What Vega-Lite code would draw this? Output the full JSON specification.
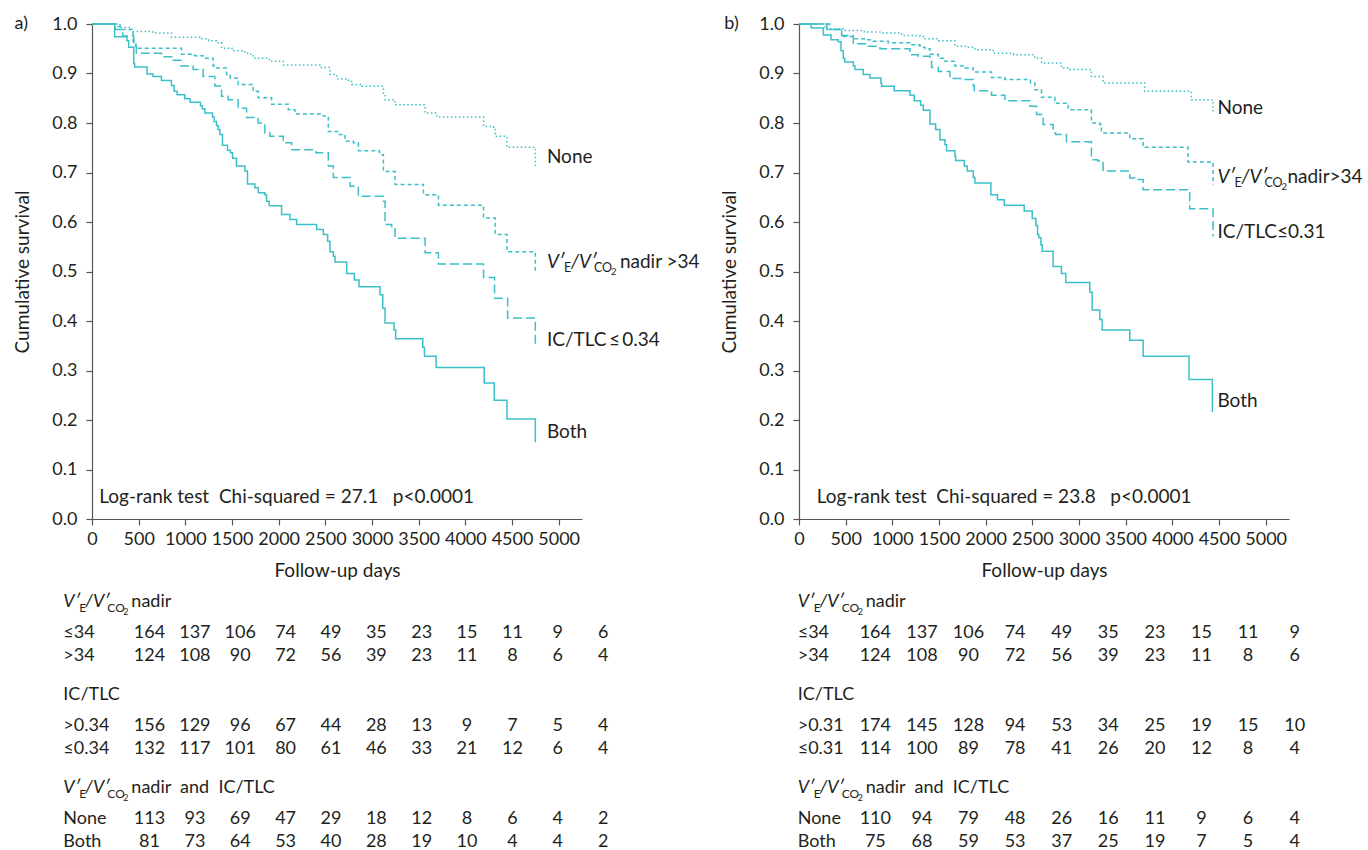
{
  "$schema": "https://vega.github.io/schema/vega-lite/v6.json",
  "background": "white",
  "padding": {"left": 13, "top": 15, "right": 0, "bottom": 0},
  "config": {
    "view": {"stroke": null},
    "font": "Lato",
    "axis": {"grid": false, "domainColor": "#555555", "tickColor": "#555555", "domainWidth": 1.2, "tickWidth": 1.2, "tickSize": 6, "labelFont": "Lato", "labelFontSize": 18, "labelColor": "#231f20", "titleFont": "Lato", "titleFontSize": 19, "titleFontWeight": "normal", "titleColor": "#231f20", "labelFlush": false, "labelOverlap": false},
    "text": {"font": "Lato", "fontSize": 18, "color": "#231f20"}
  },
  "datasets": {
    "km": [
      {"p":"a","g":"N","d":0,"s":1},{"p":"a","g":"N","d":280,"s":0.993},{"p":"a","g":"N","d":422,"s":0.985},{"p":"a","g":"N","d":650,"s":0.982},{"p":"a","g":"N","d":851,"s":0.973},{"p":"a","g":"N","d":1155,"s":0.970},{"p":"a","g":"N","d":1250,"s":0.966},{"p":"a","g":"N","d":1334,"s":0.962},{"p":"a","g":"N","d":1388,"s":0.951},{"p":"a","g":"N","d":1500,"s":0.946},{"p":"a","g":"N","d":1638,"s":0.941},{"p":"a","g":"N","d":1700,"s":0.936},{"p":"a","g":"N","d":1745,"s":0.931},{"p":"a","g":"N","d":1900,"s":0.925},{"p":"a","g":"N","d":2049,"s":0.917},{"p":"a","g":"N","d":2443,"s":0.912},{"p":"a","g":"N","d":2550,"s":0.898},{"p":"a","g":"N","d":2622,"s":0.889},{"p":"a","g":"N","d":2747,"s":0.884},{"p":"a","g":"N","d":2783,"s":0.878},{"p":"a","g":"N","d":2890,"s":0.874},{"p":"a","g":"N","d":3122,"s":0.857},{"p":"a","g":"N","d":3140,"s":0.847},{"p":"a","g":"N","d":3247,"s":0.837},{"p":"a","g":"N","d":3569,"s":0.820},{"p":"a","g":"N","d":3694,"s":0.812},{"p":"a","g":"N","d":4195,"s":0.793},{"p":"a","g":"N","d":4303,"s":0.787},{"p":"a","g":"N","d":4320,"s":0.773},{"p":"a","g":"N","d":4446,"s":0.751},{"p":"a","g":"N","d":4750,"s":0.713},
      {"p":"a","g":"V","d":0,"s":1},{"p":"a","g":"V","d":300,"s":0.989},{"p":"a","g":"V","d":440,"s":0.965},{"p":"a","g":"V","d":470,"s":0.951},{"p":"a","g":"V","d":958,"s":0.939},{"p":"a","g":"V","d":1100,"s":0.936},{"p":"a","g":"V","d":1191,"s":0.931},{"p":"a","g":"V","d":1298,"s":0.915},{"p":"a","g":"V","d":1320,"s":0.911},{"p":"a","g":"V","d":1441,"s":0.898},{"p":"a","g":"V","d":1480,"s":0.891},{"p":"a","g":"V","d":1566,"s":0.878},{"p":"a","g":"V","d":1727,"s":0.864},{"p":"a","g":"V","d":1781,"s":0.851},{"p":"a","g":"V","d":1924,"s":0.838},{"p":"a","g":"V","d":2103,"s":0.827},{"p":"a","g":"V","d":2174,"s":0.818},{"p":"a","g":"V","d":2479,"s":0.814},{"p":"a","g":"V","d":2532,"s":0.783},{"p":"a","g":"V","d":2650,"s":0.777},{"p":"a","g":"V","d":2711,"s":0.763},{"p":"a","g":"V","d":2800,"s":0.760},{"p":"a","g":"V","d":2854,"s":0.744},{"p":"a","g":"V","d":3080,"s":0.736},{"p":"a","g":"V","d":3122,"s":0.702},{"p":"a","g":"V","d":3247,"s":0.676},{"p":"a","g":"V","d":3551,"s":0.655},{"p":"a","g":"V","d":3712,"s":0.634},{"p":"a","g":"V","d":4195,"s":0.608},{"p":"a","g":"V","d":4320,"s":0.575},{"p":"a","g":"V","d":4446,"s":0.540},{"p":"a","g":"V","d":4750,"s":0.501},
      {"p":"a","g":"I","d":0,"s":1},{"p":"a","g":"I","d":250,"s":0.989},{"p":"a","g":"I","d":330,"s":0.976},{"p":"a","g":"I","d":447,"s":0.955},{"p":"a","g":"I","d":475,"s":0.941},{"p":"a","g":"I","d":744,"s":0.934},{"p":"a","g":"I","d":869,"s":0.927},{"p":"a","g":"I","d":951,"s":0.915},{"p":"a","g":"I","d":1084,"s":0.908},{"p":"a","g":"I","d":1191,"s":0.894},{"p":"a","g":"I","d":1316,"s":0.875},{"p":"a","g":"I","d":1388,"s":0.854},{"p":"a","g":"I","d":1459,"s":0.847},{"p":"a","g":"I","d":1566,"s":0.830},{"p":"a","g":"I","d":1656,"s":0.811},{"p":"a","g":"I","d":1780,"s":0.800},{"p":"a","g":"I","d":1852,"s":0.780},{"p":"a","g":"I","d":1906,"s":0.773},{"p":"a","g":"I","d":2049,"s":0.760},{"p":"a","g":"I","d":2139,"s":0.746},{"p":"a","g":"I","d":2400,"s":0.740},{"p":"a","g":"I","d":2532,"s":0.713},{"p":"a","g":"I","d":2586,"s":0.690},{"p":"a","g":"I","d":2765,"s":0.672},{"p":"a","g":"I","d":2854,"s":0.652},{"p":"a","g":"I","d":3122,"s":0.642},{"p":"a","g":"I","d":3140,"s":0.595},{"p":"a","g":"I","d":3211,"s":0.588},{"p":"a","g":"I","d":3247,"s":0.567},{"p":"a","g":"I","d":3569,"s":0.538},{"p":"a","g":"I","d":3712,"s":0.515},{"p":"a","g":"I","d":4195,"s":0.488},{"p":"a","g":"I","d":4313,"s":0.446},{"p":"a","g":"I","d":4453,"s":0.406},{"p":"a","g":"I","d":4750,"s":0.349},
      {"p":"a","g":"B","d":0,"s":1},{"p":"a","g":"B","d":243,"s":0.974},{"p":"a","g":"B","d":375,"s":0.966},{"p":"a","g":"B","d":393,"s":0.953},{"p":"a","g":"B","d":447,"s":0.920},{"p":"a","g":"B","d":457,"s":0.913},{"p":"a","g":"B","d":590,"s":0.899},{"p":"a","g":"B","d":654,"s":0.894},{"p":"a","g":"B","d":744,"s":0.886},{"p":"a","g":"B","d":851,"s":0.876},{"p":"a","g":"B","d":880,"s":0.864},{"p":"a","g":"B","d":912,"s":0.857},{"p":"a","g":"B","d":994,"s":0.849},{"p":"a","g":"B","d":1051,"s":0.842},{"p":"a","g":"B","d":1162,"s":0.835},{"p":"a","g":"B","d":1180,"s":0.829},{"p":"a","g":"B","d":1209,"s":0.820},{"p":"a","g":"B","d":1291,"s":0.812},{"p":"a","g":"B","d":1309,"s":0.803},{"p":"a","g":"B","d":1334,"s":0.795},{"p":"a","g":"B","d":1352,"s":0.787},{"p":"a","g":"B","d":1370,"s":0.777},{"p":"a","g":"B","d":1398,"s":0.755},{"p":"a","g":"B","d":1452,"s":0.745},{"p":"a","g":"B","d":1484,"s":0.740},{"p":"a","g":"B","d":1506,"s":0.729},{"p":"a","g":"B","d":1548,"s":0.713},{"p":"a","g":"B","d":1638,"s":0.703},{"p":"a","g":"B","d":1666,"s":0.677},{"p":"a","g":"B","d":1745,"s":0.669},{"p":"a","g":"B","d":1781,"s":0.659},{"p":"a","g":"B","d":1852,"s":0.655},{"p":"a","g":"B","d":1870,"s":0.642},{"p":"a","g":"B","d":1899,"s":0.633},{"p":"a","g":"B","d":2031,"s":0.615},{"p":"a","g":"B","d":2121,"s":0.605},{"p":"a","g":"B","d":2192,"s":0.595},{"p":"a","g":"B","d":2407,"s":0.585},{"p":"a","g":"B","d":2479,"s":0.575},{"p":"a","g":"B","d":2525,"s":0.561},{"p":"a","g":"B","d":2550,"s":0.540},{"p":"a","g":"B","d":2586,"s":0.531},{"p":"a","g":"B","d":2604,"s":0.519},{"p":"a","g":"B","d":2729,"s":0.496},{"p":"a","g":"B","d":2811,"s":0.483},{"p":"a","g":"B","d":2861,"s":0.469},{"p":"a","g":"B","d":3086,"s":0.453},{"p":"a","g":"B","d":3115,"s":0.426},{"p":"a","g":"B","d":3140,"s":0.396},{"p":"a","g":"B","d":3237,"s":0.382},{"p":"a","g":"B","d":3254,"s":0.364},{"p":"a","g":"B","d":3544,"s":0.347},{"p":"a","g":"B","d":3562,"s":0.329},{"p":"a","g":"B","d":3687,"s":0.306},{"p":"a","g":"B","d":4202,"s":0.275},{"p":"a","g":"B","d":4310,"s":0.240},{"p":"a","g":"B","d":4446,"s":0.202},{"p":"a","g":"B","d":4750,"s":0.155},
      {"p":"b","g":"N","d":0,"s":1},{"p":"b","g":"N","d":279,"s":0.990},{"p":"b","g":"N","d":475,"s":0.987},{"p":"b","g":"N","d":700,"s":0.984},{"p":"b","g":"N","d":885,"s":0.982},{"p":"b","g":"N","d":1100,"s":0.977},{"p":"b","g":"N","d":1296,"s":0.975},{"p":"b","g":"N","d":1350,"s":0.970},{"p":"b","g":"N","d":1492,"s":0.966},{"p":"b","g":"N","d":1671,"s":0.955},{"p":"b","g":"N","d":1800,"s":0.953},{"p":"b","g":"N","d":1885,"s":0.948},{"p":"b","g":"N","d":2081,"s":0.941},{"p":"b","g":"N","d":2300,"s":0.938},{"p":"b","g":"N","d":2527,"s":0.931},{"p":"b","g":"N","d":2599,"s":0.921},{"p":"b","g":"N","d":2812,"s":0.911},{"p":"b","g":"N","d":2900,"s":0.908},{"p":"b","g":"N","d":3133,"s":0.894},{"p":"b","g":"N","d":3258,"s":0.881},{"p":"b","g":"N","d":3704,"s":0.864},{"p":"b","g":"N","d":4204,"s":0.847},{"p":"b","g":"N","d":4436,"s":0.820},
      {"p":"b","g":"V","d":0,"s":1},{"p":"b","g":"V","d":330,"s":0.989},{"p":"b","g":"V","d":457,"s":0.975},{"p":"b","g":"V","d":600,"s":0.970},{"p":"b","g":"V","d":700,"s":0.968},{"p":"b","g":"V","d":796,"s":0.965},{"p":"b","g":"V","d":957,"s":0.962},{"p":"b","g":"V","d":1189,"s":0.958},{"p":"b","g":"V","d":1296,"s":0.953},{"p":"b","g":"V","d":1350,"s":0.950},{"p":"b","g":"V","d":1403,"s":0.939},{"p":"b","g":"V","d":1492,"s":0.931},{"p":"b","g":"V","d":1546,"s":0.925},{"p":"b","g":"V","d":1671,"s":0.915},{"p":"b","g":"V","d":1778,"s":0.911},{"p":"b","g":"V","d":1867,"s":0.903},{"p":"b","g":"V","d":2063,"s":0.892},{"p":"b","g":"V","d":2206,"s":0.888},{"p":"b","g":"V","d":2480,"s":0.881},{"p":"b","g":"V","d":2527,"s":0.867},{"p":"b","g":"V","d":2598,"s":0.852},{"p":"b","g":"V","d":2741,"s":0.840},{"p":"b","g":"V","d":2884,"s":0.827},{"p":"b","g":"V","d":3133,"s":0.800},{"p":"b","g":"V","d":3222,"s":0.797},{"p":"b","g":"V","d":3240,"s":0.780},{"p":"b","g":"V","d":3544,"s":0.768},{"p":"b","g":"V","d":3687,"s":0.751},{"p":"b","g":"V","d":4168,"s":0.721},{"p":"b","g":"V","d":4436,"s":0.676},
      {"p":"b","g":"I","d":0,"s":1},{"p":"b","g":"I","d":300,"s":0.989},{"p":"b","g":"I","d":457,"s":0.977},{"p":"b","g":"I","d":582,"s":0.960},{"p":"b","g":"I","d":736,"s":0.955},{"p":"b","g":"I","d":868,"s":0.950},{"p":"b","g":"I","d":1189,"s":0.945},{"p":"b","g":"I","d":1207,"s":0.938},{"p":"b","g":"I","d":1278,"s":0.935},{"p":"b","g":"I","d":1403,"s":0.925},{"p":"b","g":"I","d":1421,"s":0.912},{"p":"b","g":"I","d":1492,"s":0.904},{"p":"b","g":"I","d":1617,"s":0.894},{"p":"b","g":"I","d":1635,"s":0.890},{"p":"b","g":"I","d":1780,"s":0.888},{"p":"b","g":"I","d":1867,"s":0.876},{"p":"b","g":"I","d":1878,"s":0.865},{"p":"b","g":"I","d":2063,"s":0.856},{"p":"b","g":"I","d":2206,"s":0.845},{"p":"b","g":"I","d":2474,"s":0.834},{"p":"b","g":"I","d":2545,"s":0.817},{"p":"b","g":"I","d":2616,"s":0.797},{"p":"b","g":"I","d":2723,"s":0.780},{"p":"b","g":"I","d":2750,"s":0.777},{"p":"b","g":"I","d":2866,"s":0.762},{"p":"b","g":"I","d":3133,"s":0.726},{"p":"b","g":"I","d":3200,"s":0.723},{"p":"b","g":"I","d":3258,"s":0.703},{"p":"b","g":"I","d":3544,"s":0.689},{"p":"b","g":"I","d":3600,"s":0.686},{"p":"b","g":"I","d":3687,"s":0.665},{"p":"b","g":"I","d":4186,"s":0.627},{"p":"b","g":"I","d":4436,"s":0.571},
      {"p":"b","g":"B","d":0,"s":1},{"p":"b","g":"B","d":129,"s":0.992},{"p":"b","g":"B","d":261,"s":0.978},{"p":"b","g":"B","d":343,"s":0.968},{"p":"b","g":"B","d":421,"s":0.964},{"p":"b","g":"B","d":450,"s":0.946},{"p":"b","g":"B","d":475,"s":0.931},{"p":"b","g":"B","d":490,"s":0.923},{"p":"b","g":"B","d":582,"s":0.915},{"p":"b","g":"B","d":600,"s":0.908},{"p":"b","g":"B","d":689,"s":0.898},{"p":"b","g":"B","d":760,"s":0.891},{"p":"b","g":"B","d":878,"s":0.881},{"p":"b","g":"B","d":885,"s":0.874},{"p":"b","g":"B","d":1021,"s":0.865},{"p":"b","g":"B","d":1189,"s":0.856},{"p":"b","g":"B","d":1235,"s":0.845},{"p":"b","g":"B","d":1303,"s":0.836},{"p":"b","g":"B","d":1332,"s":0.826},{"p":"b","g":"B","d":1403,"s":0.798},{"p":"b","g":"B","d":1464,"s":0.787},{"p":"b","g":"B","d":1510,"s":0.766},{"p":"b","g":"B","d":1564,"s":0.756},{"p":"b","g":"B","d":1581,"s":0.744},{"p":"b","g":"B","d":1671,"s":0.733},{"p":"b","g":"B","d":1678,"s":0.724},{"p":"b","g":"B","d":1771,"s":0.713},{"p":"b","g":"B","d":1803,"s":0.703},{"p":"b","g":"B","d":1867,"s":0.690},{"p":"b","g":"B","d":1885,"s":0.679},{"p":"b","g":"B","d":2056,"s":0.655},{"p":"b","g":"B","d":2127,"s":0.645},{"p":"b","g":"B","d":2199,"s":0.634},{"p":"b","g":"B","d":2413,"s":0.622},{"p":"b","g":"B","d":2499,"s":0.607},{"p":"b","g":"B","d":2538,"s":0.593},{"p":"b","g":"B","d":2556,"s":0.575},{"p":"b","g":"B","d":2570,"s":0.568},{"p":"b","g":"B","d":2592,"s":0.554},{"p":"b","g":"B","d":2606,"s":0.541},{"p":"b","g":"B","d":2723,"s":0.510},{"p":"b","g":"B","d":2812,"s":0.496},{"p":"b","g":"B","d":2859,"s":0.478},{"p":"b","g":"B","d":3116,"s":0.458},{"p":"b","g":"B","d":3141,"s":0.422},{"p":"b","g":"B","d":3223,"s":0.403},{"p":"b","g":"B","d":3248,"s":0.382},{"p":"b","g":"B","d":3544,"s":0.361},{"p":"b","g":"B","d":3687,"s":0.329},{"p":"b","g":"B","d":4179,"s":0.282},{"p":"b","g":"B","d":4429,"s":0.216}
    ],
    "tab": [
      {"p":"a","r":"r1","t":0,"n":164},{"p":"a","r":"r1","t":500,"n":137},{"p":"a","r":"r1","t":1000,"n":106},{"p":"a","r":"r1","t":1500,"n":74},{"p":"a","r":"r1","t":2000,"n":49},{"p":"a","r":"r1","t":2500,"n":35},{"p":"a","r":"r1","t":3000,"n":23},{"p":"a","r":"r1","t":3500,"n":15},{"p":"a","r":"r1","t":4000,"n":11},{"p":"a","r":"r1","t":4500,"n":9},{"p":"a","r":"r1","t":5000,"n":6},
      {"p":"a","r":"r2","t":0,"n":124},{"p":"a","r":"r2","t":500,"n":108},{"p":"a","r":"r2","t":1000,"n":90},{"p":"a","r":"r2","t":1500,"n":72},{"p":"a","r":"r2","t":2000,"n":56},{"p":"a","r":"r2","t":2500,"n":39},{"p":"a","r":"r2","t":3000,"n":23},{"p":"a","r":"r2","t":3500,"n":11},{"p":"a","r":"r2","t":4000,"n":8},{"p":"a","r":"r2","t":4500,"n":6},{"p":"a","r":"r2","t":5000,"n":4},
      {"p":"a","r":"r3","t":0,"n":156},{"p":"a","r":"r3","t":500,"n":129},{"p":"a","r":"r3","t":1000,"n":96},{"p":"a","r":"r3","t":1500,"n":67},{"p":"a","r":"r3","t":2000,"n":44},{"p":"a","r":"r3","t":2500,"n":28},{"p":"a","r":"r3","t":3000,"n":13},{"p":"a","r":"r3","t":3500,"n":9},{"p":"a","r":"r3","t":4000,"n":7},{"p":"a","r":"r3","t":4500,"n":5},{"p":"a","r":"r3","t":5000,"n":4},
      {"p":"a","r":"r4","t":0,"n":132},{"p":"a","r":"r4","t":500,"n":117},{"p":"a","r":"r4","t":1000,"n":101},{"p":"a","r":"r4","t":1500,"n":80},{"p":"a","r":"r4","t":2000,"n":61},{"p":"a","r":"r4","t":2500,"n":46},{"p":"a","r":"r4","t":3000,"n":33},{"p":"a","r":"r4","t":3500,"n":21},{"p":"a","r":"r4","t":4000,"n":12},{"p":"a","r":"r4","t":4500,"n":6},{"p":"a","r":"r4","t":5000,"n":4},
      {"p":"a","r":"r5","t":0,"n":113},{"p":"a","r":"r5","t":500,"n":93},{"p":"a","r":"r5","t":1000,"n":69},{"p":"a","r":"r5","t":1500,"n":47},{"p":"a","r":"r5","t":2000,"n":29},{"p":"a","r":"r5","t":2500,"n":18},{"p":"a","r":"r5","t":3000,"n":12},{"p":"a","r":"r5","t":3500,"n":8},{"p":"a","r":"r5","t":4000,"n":6},{"p":"a","r":"r5","t":4500,"n":4},{"p":"a","r":"r5","t":5000,"n":2},
      {"p":"a","r":"r6","t":0,"n":81},{"p":"a","r":"r6","t":500,"n":73},{"p":"a","r":"r6","t":1000,"n":64},{"p":"a","r":"r6","t":1500,"n":53},{"p":"a","r":"r6","t":2000,"n":40},{"p":"a","r":"r6","t":2500,"n":28},{"p":"a","r":"r6","t":3000,"n":19},{"p":"a","r":"r6","t":3500,"n":10},{"p":"a","r":"r6","t":4000,"n":4},{"p":"a","r":"r6","t":4500,"n":4},{"p":"a","r":"r6","t":5000,"n":2},
      {"p":"b","r":"r1","t":0,"n":164},{"p":"b","r":"r1","t":500,"n":137},{"p":"b","r":"r1","t":1000,"n":106},{"p":"b","r":"r1","t":1500,"n":74},{"p":"b","r":"r1","t":2000,"n":49},{"p":"b","r":"r1","t":2500,"n":35},{"p":"b","r":"r1","t":3000,"n":23},{"p":"b","r":"r1","t":3500,"n":15},{"p":"b","r":"r1","t":4000,"n":11},{"p":"b","r":"r1","t":4500,"n":9},
      {"p":"b","r":"r2","t":0,"n":124},{"p":"b","r":"r2","t":500,"n":108},{"p":"b","r":"r2","t":1000,"n":90},{"p":"b","r":"r2","t":1500,"n":72},{"p":"b","r":"r2","t":2000,"n":56},{"p":"b","r":"r2","t":2500,"n":39},{"p":"b","r":"r2","t":3000,"n":23},{"p":"b","r":"r2","t":3500,"n":11},{"p":"b","r":"r2","t":4000,"n":8},{"p":"b","r":"r2","t":4500,"n":6},
      {"p":"b","r":"r3","t":0,"n":174},{"p":"b","r":"r3","t":500,"n":145},{"p":"b","r":"r3","t":1000,"n":128},{"p":"b","r":"r3","t":1500,"n":94},{"p":"b","r":"r3","t":2000,"n":53},{"p":"b","r":"r3","t":2500,"n":34},{"p":"b","r":"r3","t":3000,"n":25},{"p":"b","r":"r3","t":3500,"n":19},{"p":"b","r":"r3","t":4000,"n":15},{"p":"b","r":"r3","t":4500,"n":10},
      {"p":"b","r":"r4","t":0,"n":114},{"p":"b","r":"r4","t":500,"n":100},{"p":"b","r":"r4","t":1000,"n":89},{"p":"b","r":"r4","t":1500,"n":78},{"p":"b","r":"r4","t":2000,"n":41},{"p":"b","r":"r4","t":2500,"n":26},{"p":"b","r":"r4","t":3000,"n":20},{"p":"b","r":"r4","t":3500,"n":12},{"p":"b","r":"r4","t":4000,"n":8},{"p":"b","r":"r4","t":4500,"n":4},
      {"p":"b","r":"r5","t":0,"n":110},{"p":"b","r":"r5","t":500,"n":94},{"p":"b","r":"r5","t":1000,"n":79},{"p":"b","r":"r5","t":1500,"n":48},{"p":"b","r":"r5","t":2000,"n":26},{"p":"b","r":"r5","t":2500,"n":16},{"p":"b","r":"r5","t":3000,"n":11},{"p":"b","r":"r5","t":3500,"n":9},{"p":"b","r":"r5","t":4000,"n":6},{"p":"b","r":"r5","t":4500,"n":4},
      {"p":"b","r":"r6","t":0,"n":75},{"p":"b","r":"r6","t":500,"n":68},{"p":"b","r":"r6","t":1000,"n":59},{"p":"b","r":"r6","t":1500,"n":53},{"p":"b","r":"r6","t":2000,"n":37},{"p":"b","r":"r6","t":2500,"n":25},{"p":"b","r":"r6","t":3000,"n":19},{"p":"b","r":"r6","t":3500,"n":7},{"p":"b","r":"r6","t":4000,"n":5},{"p":"b","r":"r6","t":4500,"n":4}
    ],
    "lab": [
      {"p":"a","r":"r1","lab":"≤34"},{"p":"a","r":"r2","lab":">34"},{"p":"a","r":"h2","lab":"IC/TLC"},{"p":"a","r":"r3","lab":">0.34"},{"p":"a","r":"r4","lab":"≤0.34"},{"p":"a","r":"r5","lab":"None"},{"p":"a","r":"r6","lab":"Both"},
      {"p":"b","r":"r1","lab":"≤34"},{"p":"b","r":"r2","lab":">34"},{"p":"b","r":"h2","lab":"IC/TLC"},{"p":"b","r":"r3","lab":">0.31"},{"p":"b","r":"r4","lab":"≤0.31"},{"p":"b","r":"r5","lab":"None"},{"p":"b","r":"r6","lab":"Both"}
    ]
  },
  "spacing": 20,
  "hconcat": [
    {
      "spacing": 13,
      "vconcat": [
        {
          "width": 490, "height": 495,
          "layer": [
            {"data": {"name": "km"}, "transform": [{"filter": "datum.p === 'a'"}],
             "mark": {"type": "line", "interpolate": "step-after", "color": "#3cc0c8", "strokeWidth": 1.5},
             "encoding": {
               "x": {"field": "d", "type": "quantitative", "scale": {"domain": [0, 5250], "nice": false, "zero": false},
                     "axis": {"values": [0,500,1000,1500,2000,2500,3000,3500,4000,4500,5000], "format": "d", "title": "Follow-up days", "labelPadding": 5, "titlePadding": 13}},
               "y": {"field": "s", "type": "quantitative", "scale": {"domain": [0, 1], "nice": false},
                     "axis": {"values": [0,0.1,0.2,0.3,0.4,0.5,0.6,0.7,0.8,0.9,1], "format": ".1f", "title": "Cumulative survival", "labelPadding": 9, "titlePadding": 19}},
               "strokeDash": {"field": "g", "type": "nominal", "scale": {"domain": ["N","V","I","B"], "range": [[1.5,2.5],[4,3],[9,4],[1,0]]}, "legend": null}
             }},
            {"data": {"values": [{}]}, "mark": {"type": "text", "align": "left", "baseline": "middle"},
             "encoding": {"x": {"datum": -830}, "y": {"datum": 1}, "text": {"value": "a)"}}},
            {"data": {"values": [{}]}, "mark": {"type": "text", "align": "left", "baseline": "middle", "fontSize": 19},
             "encoding": {"x": {"datum": 4874}, "y": {"datum": 0.732}, "text": {"value": "None"}}},
            {"data": {"values": [{}]}, "mark": {"type": "text", "align": "left", "baseline": "middle", "fontSize": 19},
             "encoding": {"x": {"datum": 4874}, "y": {"datum": 0.362}, "text": {"value": "IC/TLC\u2009≤\u20090.34"}}},
            {"data": {"values": [{}]}, "mark": {"type": "text", "align": "left", "baseline": "middle", "fontSize": 19},
             "encoding": {"x": {"datum": 4874}, "y": {"datum": 0.176}, "text": {"value": "Both"}}},
            {"data": {"values": [{}]}, "mark": {"type": "text", "align": "left", "baseline": "middle", "fontSize": 19},
             "encoding": {"x": {"datum": 78}, "y": {"datum": 0.045}, "text": {"value": "Log-rank test\u00a0\u00a0Chi-squared = 27.1\u00a0\u00a0\u00a0p<0.0001"}}},
            {"data": {"values": [{}]}, "mark": {"type": "text", "align": "left", "baseline": "middle", "fontSize": 19, "fontStyle": "italic"},
             "encoding": {"x": {"datum": 4874}, "y": {"datum": 0.52}, "text": {"value": "V′"}}},
            {"data": {"values": [{}]}, "mark": {"type": "text", "align": "left", "baseline": "middle", "fontSize": 12.5, "dx": 17, "dy": 6},
             "encoding": {"x": {"datum": 4874}, "y": {"datum": 0.52}, "text": {"value": "E"}}},
            {"data": {"values": [{}]}, "mark": {"type": "text", "align": "left", "baseline": "middle", "fontSize": 19, "fontStyle": "italic", "dx": 24},
             "encoding": {"x": {"datum": 4874}, "y": {"datum": 0.52}, "text": {"value": "/V′"}}},
            {"data": {"values": [{}]}, "mark": {"type": "text", "align": "left", "baseline": "middle", "fontSize": 12.5, "dx": 47, "dy": 6},
             "encoding": {"x": {"datum": 4874}, "y": {"datum": 0.52}, "text": {"value": "CO"}}},
            {"data": {"values": [{}]}, "mark": {"type": "text", "align": "left", "baseline": "middle", "fontSize": 9.5, "dx": 64, "dy": 10},
             "encoding": {"x": {"datum": 4874}, "y": {"datum": 0.52}, "text": {"value": "2"}}},
            {"data": {"values": [{}]}, "mark": {"type": "text", "align": "left", "baseline": "middle", "fontSize": 19, "dx": 73},
             "encoding": {"x": {"datum": 4874}, "y": {"datum": 0.52}, "text": {"value": "nadir >34"}}}
          ]
        },
        {
          "width": 490, "height": 240,
          "layer": [
            {"data": {"name": "tab"}, "transform": [{"filter": "datum.p === 'a'"}],
             "mark": {"type": "text", "align": "center", "baseline": "middle"},
             "encoding": {
               "x": {"field": "t", "type": "quantitative", "scale": {"domain": [-634, 4767], "nice": false, "zero": false}, "axis": null},
               "y": {"field": "r", "type": "nominal", "scale": {"type": "point", "padding": 0, "domain": ["h1","_1","_2","_3","r1","_5","_6","r2","_8","_9","_10","_11","h2","_13","_14","_15","r3","_17","_18","r4","_20","_21","_22","_23","h3","_25","_26","_27","r5","_29","_30","r6"]}, "axis": null},
               "text": {"field": "n", "type": "quantitative"}
             }},
            {"data": {"name": "lab"}, "transform": [{"filter": "datum.p === 'a'"}],
             "mark": {"type": "text", "align": "left", "baseline": "middle"},
             "encoding": {"x": {"datum": -950}, "y": {"field": "r", "type": "nominal"}, "text": {"field": "lab", "type": "nominal"}}},
            {"data": {"values": [{"r": "h1"}, {"r": "h3"}]}, "mark": {"type": "text", "align": "left", "baseline": "middle", "fontStyle": "italic"},
             "encoding": {"x": {"datum": -950}, "y": {"field": "r", "type": "nominal"}, "text": {"value": "V′"}}},
            {"data": {"values": [{"r": "h1"}, {"r": "h3"}]}, "mark": {"type": "text", "align": "left", "baseline": "middle", "fontSize": 12, "dx": 16, "dy": 6},
             "encoding": {"x": {"datum": -950}, "y": {"field": "r", "type": "nominal"}, "text": {"value": "E"}}},
            {"data": {"values": [{"r": "h1"}, {"r": "h3"}]}, "mark": {"type": "text", "align": "left", "baseline": "middle", "fontStyle": "italic", "dx": 22},
             "encoding": {"x": {"datum": -950}, "y": {"field": "r", "type": "nominal"}, "text": {"value": "/V′"}}},
            {"data": {"values": [{"r": "h1"}, {"r": "h3"}]}, "mark": {"type": "text", "align": "left", "baseline": "middle", "fontSize": 12, "dx": 44, "dy": 6},
             "encoding": {"x": {"datum": -950}, "y": {"field": "r", "type": "nominal"}, "text": {"value": "CO"}}},
            {"data": {"values": [{"r": "h1"}, {"r": "h3"}]}, "mark": {"type": "text", "align": "left", "baseline": "middle", "fontSize": 9, "dx": 60, "dy": 10},
             "encoding": {"x": {"datum": -950}, "y": {"field": "r", "type": "nominal"}, "text": {"value": "2"}}},
            {"data": {"values": [{"r": "h1", "tx": "nadir"}, {"r": "h3", "tx": "nadir\u00a0\u00a0and\u00a0\u00a0IC/TLC"}]}, "mark": {"type": "text", "align": "left", "baseline": "middle", "dx": 68},
             "encoding": {"x": {"datum": -950}, "y": {"field": "r", "type": "nominal"}, "text": {"field": "tx", "type": "nominal"}}}
          ]
        }
      ]
    },
    {
      "spacing": 13,
      "vconcat": [
        {
          "width": 490, "height": 495,
          "layer": [
            {"data": {"name": "km"}, "transform": [{"filter": "datum.p === 'b'"}],
             "mark": {"type": "line", "interpolate": "step-after", "color": "#3cc0c8", "strokeWidth": 1.5},
             "encoding": {
               "x": {"field": "d", "type": "quantitative", "scale": {"domain": [0, 5250], "nice": false, "zero": false},
                     "axis": {"values": [0,500,1000,1500,2000,2500,3000,3500,4000,4500,5000], "format": "d", "title": "Follow-up days", "labelPadding": 5, "titlePadding": 13}},
               "y": {"field": "s", "type": "quantitative", "scale": {"domain": [0, 1], "nice": false},
                     "axis": {"values": [0,0.1,0.2,0.3,0.4,0.5,0.6,0.7,0.8,0.9,1], "format": ".1f", "title": "Cumulative survival", "labelPadding": 9, "titlePadding": 19}},
               "strokeDash": {"field": "g", "type": "nominal", "scale": {"domain": ["N","V","I","B"], "range": [[1.5,2.5],[4,3],[9,4],[1,0]]}, "legend": null}
             }},
            {"data": {"values": [{}]}, "mark": {"type": "text", "align": "left", "baseline": "middle"},
             "encoding": {"x": {"datum": -800}, "y": {"datum": 1}, "text": {"value": "b)"}}},
            {"data": {"values": [{}]}, "mark": {"type": "text", "align": "left", "baseline": "middle", "fontSize": 19},
             "encoding": {"x": {"datum": 4483}, "y": {"datum": 0.83}, "text": {"value": "None"}}},
            {"data": {"values": [{}]}, "mark": {"type": "text", "align": "left", "baseline": "middle", "fontSize": 19},
             "encoding": {"x": {"datum": 4483}, "y": {"datum": 0.58}, "text": {"value": "IC/TLC≤0.31"}}},
            {"data": {"values": [{}]}, "mark": {"type": "text", "align": "left", "baseline": "middle", "fontSize": 19},
             "encoding": {"x": {"datum": 4483}, "y": {"datum": 0.239}, "text": {"value": "Both"}}},
            {"data": {"values": [{}]}, "mark": {"type": "text", "align": "left", "baseline": "middle", "fontSize": 19},
             "encoding": {"x": {"datum": 190}, "y": {"datum": 0.045}, "text": {"value": "Log-rank test\u00a0\u00a0Chi-squared = 23.8\u00a0\u00a0\u00a0p<0.0001"}}},
            {"data": {"values": [{}]}, "mark": {"type": "text", "align": "left", "baseline": "middle", "fontSize": 19, "fontStyle": "italic"},
             "encoding": {"x": {"datum": 4483}, "y": {"datum": 0.69}, "text": {"value": "V′"}}},
            {"data": {"values": [{}]}, "mark": {"type": "text", "align": "left", "baseline": "middle", "fontSize": 12.5, "dx": 17, "dy": 6},
             "encoding": {"x": {"datum": 4483}, "y": {"datum": 0.69}, "text": {"value": "E"}}},
            {"data": {"values": [{}]}, "mark": {"type": "text", "align": "left", "baseline": "middle", "fontSize": 19, "fontStyle": "italic", "dx": 24},
             "encoding": {"x": {"datum": 4483}, "y": {"datum": 0.69}, "text": {"value": "/V′"}}},
            {"data": {"values": [{}]}, "mark": {"type": "text", "align": "left", "baseline": "middle", "fontSize": 12.5, "dx": 47, "dy": 6},
             "encoding": {"x": {"datum": 4483}, "y": {"datum": 0.69}, "text": {"value": "CO"}}},
            {"data": {"values": [{}]}, "mark": {"type": "text", "align": "left", "baseline": "middle", "fontSize": 9.5, "dx": 64, "dy": 10},
             "encoding": {"x": {"datum": 4483}, "y": {"datum": 0.69}, "text": {"value": "2"}}},
            {"data": {"values": [{}]}, "mark": {"type": "text", "align": "left", "baseline": "middle", "fontSize": 19, "dx": 70},
             "encoding": {"x": {"datum": 4483}, "y": {"datum": 0.69}, "text": {"value": "nadir>34"}}}
          ]
        },
        {
          "width": 490, "height": 240,
          "layer": [
            {"data": {"name": "tab"}, "transform": [{"filter": "datum.p === 'b'"}],
             "mark": {"type": "text", "align": "center", "baseline": "middle"},
             "encoding": {
               "x": {"field": "t", "type": "quantitative", "scale": {"domain": [-819, 4439], "nice": false, "zero": false}, "axis": null},
               "y": {"field": "r", "type": "nominal", "scale": {"type": "point", "padding": 0, "domain": ["h1","_1","_2","_3","r1","_5","_6","r2","_8","_9","_10","_11","h2","_13","_14","_15","r3","_17","_18","r4","_20","_21","_22","_23","h3","_25","_26","_27","r5","_29","_30","r6"]}, "axis": null},
               "text": {"field": "n", "type": "quantitative"}
             }},
            {"data": {"name": "lab"}, "transform": [{"filter": "datum.p === 'b'"}],
             "mark": {"type": "text", "align": "left", "baseline": "middle"},
             "encoding": {"x": {"datum": -833}, "y": {"field": "r", "type": "nominal"}, "text": {"field": "lab", "type": "nominal"}}},
            {"data": {"values": [{"r": "h1"}, {"r": "h3"}]}, "mark": {"type": "text", "align": "left", "baseline": "middle", "fontStyle": "italic"},
             "encoding": {"x": {"datum": -833}, "y": {"field": "r", "type": "nominal"}, "text": {"value": "V′"}}},
            {"data": {"values": [{"r": "h1"}, {"r": "h3"}]}, "mark": {"type": "text", "align": "left", "baseline": "middle", "fontSize": 12, "dx": 16, "dy": 6},
             "encoding": {"x": {"datum": -833}, "y": {"field": "r", "type": "nominal"}, "text": {"value": "E"}}},
            {"data": {"values": [{"r": "h1"}, {"r": "h3"}]}, "mark": {"type": "text", "align": "left", "baseline": "middle", "fontStyle": "italic", "dx": 22},
             "encoding": {"x": {"datum": -833}, "y": {"field": "r", "type": "nominal"}, "text": {"value": "/V′"}}},
            {"data": {"values": [{"r": "h1"}, {"r": "h3"}]}, "mark": {"type": "text", "align": "left", "baseline": "middle", "fontSize": 12, "dx": 44, "dy": 6},
             "encoding": {"x": {"datum": -833}, "y": {"field": "r", "type": "nominal"}, "text": {"value": "CO"}}},
            {"data": {"values": [{"r": "h1"}, {"r": "h3"}]}, "mark": {"type": "text", "align": "left", "baseline": "middle", "fontSize": 9, "dx": 60, "dy": 10},
             "encoding": {"x": {"datum": -833}, "y": {"field": "r", "type": "nominal"}, "text": {"value": "2"}}},
            {"data": {"values": [{"r": "h1", "tx": "nadir"}, {"r": "h3", "tx": "nadir\u00a0\u00a0and\u00a0\u00a0IC/TLC"}]}, "mark": {"type": "text", "align": "left", "baseline": "middle", "dx": 68},
             "encoding": {"x": {"datum": -833}, "y": {"field": "r", "type": "nominal"}, "text": {"field": "tx", "type": "nominal"}}}
          ]
        }
      ]
    }
  ]
}
